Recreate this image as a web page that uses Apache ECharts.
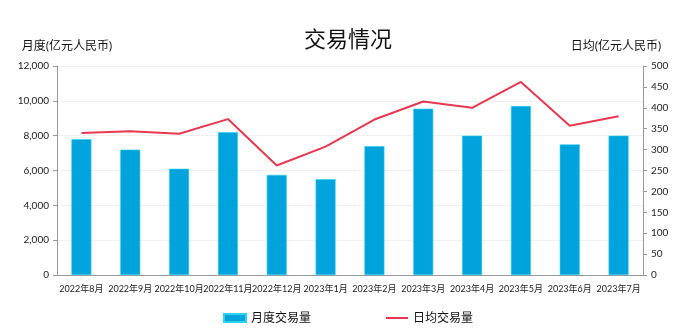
<!DOCTYPE html>
<html>
<head>
<meta charset="utf-8">
<script src="https://cdn.jsdelivr.net/npm/echarts@6/dist/echarts.min.js"></script>
<style>
html,body{margin:0;padding:0;background:#fff;}
#chart{width:696px;height:335px;}
</style>
</head>
<body>
<div id="chart"></div>
<script>
const months = ['2022年8月','2022年9月','2022年10月','2022年11月','2022年12月','2023年1月','2023年2月','2023年3月','2023年4月','2023年5月','2023年6月','2023年7月'];
const monthlyVolume = [7800, 7200, 6100, 8200, 5750, 5500, 7400, 9550, 8000, 9700, 7500, 8000];
const dailyAverage = [340, 344, 338, 373, 262, 307, 372, 415, 400, 462, 357, 380];

const font = 'Lato, "Noto Sans CJK SC", sans-serif';
const chart = echarts.init(document.getElementById('chart'));
chart.setOption({
  textStyle: { fontFamily: font },
  title: {
    text: '交易情况', left: 'center', top: 24,
    textStyle: { fontSize: 22, fontWeight: 'normal', color: '#111', fontFamily: font }
  },
  legend: {
    bottom: 6, left: 'center', itemGap: 74, itemWidth: 22, itemHeight: 8,
    textStyle: { fontSize: 12, color: '#111', fontFamily: font },
    data: [
      { name: '月度交易量', icon: 'rect' },
      { name: '日均交易量', itemStyle: { opacity: 0 } }
    ]
  },
  grid: { left: 57, right: 53, top: 66, bottom: 60 },
  xAxis: {
    type: 'category', data: months,
    axisLine: { lineStyle: { color: '#999' } },
    axisTick: { lineStyle: { color: '#999' }, length: 4 },
    axisLabel: { color: '#222', fontSize: 9, interval: 0, margin: 10 }
  },
  yAxis: [{
    type: 'value', min: 0, max: 12000, interval: 2000,
    name: '月度(亿元人民币)', nameLocation: 'end', nameGap: 14,
    nameTextStyle: { color: '#111', fontSize: 12, align: 'center', padding: [0, 0, 0, 20] },
    axisLine: { show: true, lineStyle: { color: '#999' } },
    axisTick: { show: true, length: 4, lineStyle: { color: '#999' } },
    axisLabel: { color: '#222', fontSize: 10, margin: 8, formatter: v => v.toLocaleString('en-US') },
    splitLine: { lineStyle: { color: '#f0f0f0' } }
  }, {
    type: 'value', min: 0, max: 500, interval: 50,
    name: '日均(亿元人民币)', nameLocation: 'end', nameGap: 14,
    nameTextStyle: { color: '#111', fontSize: 12, align: 'center', padding: [0, 54, 0, 0] },
    axisLine: { show: true, lineStyle: { color: '#999' } },
    axisTick: { show: true, length: 4, lineStyle: { color: '#999' } },
    axisLabel: { color: '#222', fontSize: 10, margin: 8 },
    splitLine: { show: false }
  }],
  series: [{
    name: '月度交易量', type: 'bar', data: monthlyVolume, barWidth: 20, yAxisIndex: 0,
    itemStyle: { color: '#00a3dc', borderColor: '#2fd0f0', borderWidth: 0.6 }
  }, {
    name: '日均交易量', type: 'line', data: dailyAverage, yAxisIndex: 1,
    symbol: 'none', lineStyle: { color: '#e8384f', width: 2 }, itemStyle: { color: '#e8384f' }
  }]
});
</script>
</body>
</html>
